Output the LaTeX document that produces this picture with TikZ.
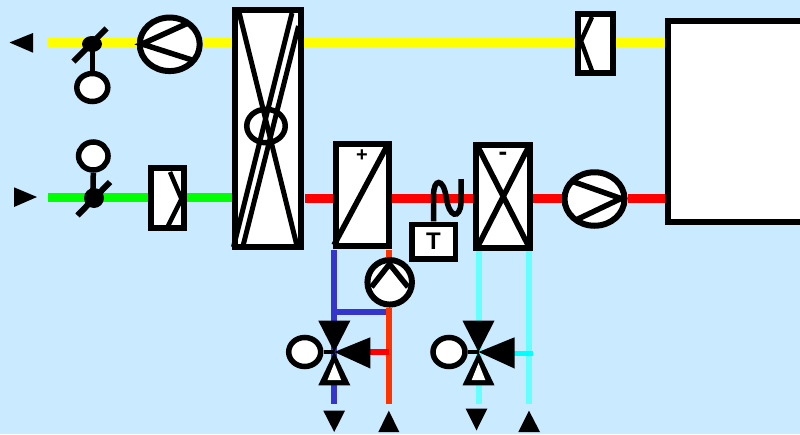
\documentclass[tikz,border=0pt]{standalone}
\usepackage{fontspec}
\setmainfont{Liberation Sans}
\usetikzlibrary{shapes.geometric}
\definecolor{bgblue}{HTML}{C9EAFF}
\definecolor{pipeblue}{HTML}{3535CC}
\definecolor{pipeorange}{HTML}{FF3300}
\definecolor{pipecyan}{HTML}{66FFFF}
\definecolor{ductyellow}{RGB}{255,255,0}
\definecolor{ductgreen}{RGB}{0,255,0}
\definecolor{ductred}{RGB}{255,0,0}
\definecolor{purecyan}{RGB}{0,255,255}
\tikzset{
  boxunit/.style={draw=black,fill=white,line width=6pt,rectangle,inner sep=0pt,outer sep=3pt},
  roundunit/.style={draw=black,fill=white,line width=6pt,ellipse,inner sep=0pt,outer sep=3pt},
  inner line/.style={draw=black,line width=5.5pt},
  thin inner/.style={draw=black,line width=4.5pt},
  pipe/.style={line width=#1,line cap=butt},
  solid tri/.style={fill=black,draw=none},
  label text/.style={font=\bfseries,text=black,inner sep=0pt}
}
\begin{document}
\begin{tikzpicture}[x=1pt,y=-1pt]
\useasboundingbox (0,0) rectangle (800,434);
\clip (0,0) rectangle (800,434);
\fill[bgblue] (0,0) rectangle (800,434);

% named free ends
\coordinate (ystart) at (48,42);
\coordinate (gstart) at (48,197);
\coordinate (ry) at (0,198.5);

% units
\node[boxunit,minimum width=66pt,minimum height=237pt] (hx) at (268,128.5) {};
\node[roundunit,minimum width=60pt,minimum height=53.5pt] (fan1) at (169.7,44.3) {};
\node[boxunit,minimum width=33pt,minimum height=60pt] (filt1) at (167.4,198) {};
\node[boxunit,minimum width=35pt,minimum height=59.5pt] (filt2) at (595.6,43.5) {};
\node[boxunit,minimum width=160pt,minimum height=200.5pt,anchor=north west] (room) at (664.5,18.3) {};
\node[boxunit,minimum width=53pt,minimum height=102pt] (heat) at (362.2,194.5) {};
\node[boxunit,minimum width=54pt,minimum height=103pt] (cool) at (503.2,196.5) {};
\node[roundunit,minimum width=60pt,minimum height=53.5pt] (fan2) at (594.5,199) {};
\node[boxunit,line width=5.5pt,minimum width=43.5pt,minimum height=34.5pt] (sensor) at (433.5,241.5) {\bfseries\fontsize{24}{24}\selectfont T};
\node[roundunit,minimum width=44.5pt,minimum height=44.5pt] (pump) at (389.7,282.3) {};

% air ducts
\draw[ductyellow,pipe=9pt] (ystart) -- (ystart -| fan1.west);
\draw[ductyellow,pipe=9pt] (ystart -| fan1.east) -- (ystart -| hx.west);
\draw[ductyellow,pipe=9pt] (ystart -| hx.east) -- (ystart -| filt2.west);
\draw[ductyellow,pipe=9pt] (ystart -| filt2.east) -- (ystart -| room.west);
\draw[ductgreen,pipe=9pt] (gstart) -- (gstart -| filt1.west);
\draw[ductgreen,pipe=9pt] (gstart -| filt1.east) -- (gstart -| hx.west);
\draw[ductred,pipe=9pt] (ry -| hx.east) ++(1,0) -- (ry -| heat.west);
\draw[ductred,pipe=9pt] (ry -| heat.east) -- (ry -| cool.west);
\draw[ductred,pipe=9pt] (ry -| cool.east) -- (ry -| fan2.west);
\draw[ductred,pipe=9pt] (ry -| fan2.east) -- (ry -| room.west);

% outlet / inlet arrows of air
\fill[solid tri] (9.5,42.5) -- (33,33) -- (33,52.7) -- cycle;
\fill[solid tri] (37,197) -- (14,187.3) -- (14,207) -- cycle;

% fan blades
\draw[inner line,line join=miter] (186,24) -- (142,44) -- (192,60);
\draw[inner line,line join=miter] (572.7,181.5) -- (621,198.5) -- (578,219);

% filters
\draw[thin inner] (170,172) -- (181.5,199) -- (168,226);
\draw[thin inner] (592,17) -- (581,41) -- (592,71);

% heat exchanger
\draw[inner line,line width=5pt] (239,12) -- (297,246);
\draw[inner line,line width=5pt] (292,13) -- (233.5,247);
\draw[inner line,line width=5pt] (298.5,26) -- (243,246);
\node[draw=black,line width=5.5pt,ellipse,minimum width=38.5pt,minimum height=33.5pt,inner sep=0pt] (wheel) at (266,126) {};

% coils
\draw[inner line] (387,146) -- (334,245);
\node[label text,font=\bfseries\fontsize{20}{20}\selectfont] (plus) at (362,156) {+};
\draw[inner line] (478,147) -- (528.5,246);
\draw[inner line] (528.5,147) -- (478,246);
\node[label text,font=\bfseries\fontsize{26}{26}\selectfont] (minus) at (503,156) {-};

% temperature sensor probe
\draw[draw=black,line width=5.5pt,line cap=butt] (sensor.north -| 433.5,0) -- (433.5,196)
  .. controls (433.5,178) and (443,178) .. (446,196)
  .. controls (449,219) and (460,219) .. (461,203) -- (461,179);

% water pipes
\draw[pipeblue,pipe=6pt] (334,250) -- (334,404);
\draw[pipeblue,pipe=5.5pt] (334,312) -- (pump.south |- 0,312);
\draw[pipeorange,pipe=6pt] (388.5,250) -- (pump.north -| 388.5,0);
\draw[pipeorange,pipe=6pt] (pump.south -| 388.5,0) -- (388.5,404);
\draw[ductred,pipe=6pt] (370,352) -- (388.5,352);
\draw[pipecyan,pipe=6pt] (478.5,251) -- (478.5,404);
\draw[pipecyan,pipe=6pt] (529,251) -- (529,404);
\draw[purecyan,pipe=5pt] (514,353) -- (533,353);

% pump impeller
\draw[inner line,line join=miter] (371.5,287) -- (389.5,264) -- (408,287);

% dampers
\node[roundunit,line width=5.5pt,minimum width=31pt,minimum height=28pt] (act1) at (92.3,87.5) {};
\node[roundunit,line width=5.5pt,minimum width=29.5pt,minimum height=28pt] (act2) at (93.3,156) {};
\fill[black] (92,44) ellipse [x radius=10,y radius=8];
\fill[black] (94,198) ellipse [x radius=10,y radius=10];
\draw[inner line,line width=6pt] (73.5,61.5) -- (106.5,28.5);
\draw[inner line,line width=6pt] (77.5,215.5) -- (110,182);
\draw[inner line] (act1.north) -- (92.3,44);
\draw[inner line] (act2.south) -- (92.8,198);

% three way valves
\foreach \v/\cx/\ax/\lab in {a/334.3/304.7/1,b/478.5/449/2}{
  \fill[solid tri] (\cx-16,320.7) -- (\cx+16,320.7) -- (\cx,352) -- cycle;
  \fill[solid tri] (\cx+36,337.3) -- (\cx+36,368.5) -- (\cx,352) -- cycle;
  \fill[solid tri] (\cx-16,385.3) -- (\cx+16,385.3) -- (\cx,352) -- cycle;
  \fill[white] (\cx-6.8,380) -- (\cx+6.8,380) -- (\cx,363) -- cycle;
  \node[roundunit,line width=5.5pt,minimum width=32pt,minimum height=29pt] (valve\lab) at (\ax,352) {};
  \draw[thin inner] (valve\lab.east) -- (\cx,352);
}

% water arrows
\fill[solid tri] (323.3,410.7) -- (345,410.7) -- (334.2,432) -- cycle;
\fill[solid tri] (378.3,432) -- (399.3,432) -- (388.8,410.7) -- cycle;
\fill[solid tri] (465.7,408.7) -- (487.3,408.7) -- (476.5,430.5) -- cycle;
\fill[solid tri] (518.3,432) -- (540,432) -- (529,410.7) -- cycle;
\end{tikzpicture}
\end{document}
